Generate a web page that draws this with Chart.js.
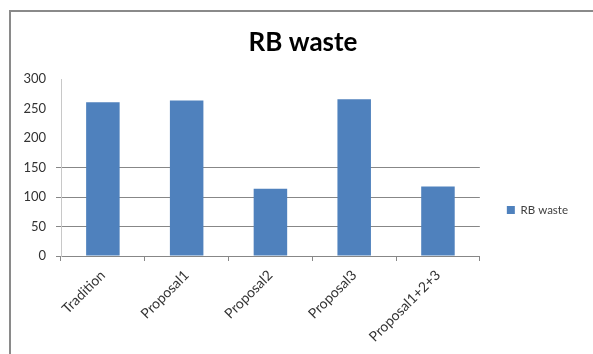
<!DOCTYPE html>
<html>
<head>
<meta charset="utf-8">
<script src="https://cdn.jsdelivr.net/npm/chart.js@4.4.1/dist/chart.umd.min.js"></script>
<style>
  html, body { margin: 0; padding: 0; background: #ffffff; }
  #wrap { position: relative; width: 593px; height: 354px; }
</style>
</head>
<body>
<div id="wrap"><canvas id="c" width="593" height="354"></canvas></div>
<script>
// Categories and measured waste per scenario
const categories = ['Tradition', 'Proposal1', 'Proposal2', 'Proposal3', 'Proposal1+2+3'];
const rbWaste = [261, 264, 114, 266, 118];
const seriesName = 'RB waste';
const yTicks = { min: 0, max: 300, step: 50 };

const FONT = 'Lato, "Liberation Sans", sans-serif';
const AXIS_GREY = '#878787';

// Outer frame of the chart object (left and top edges)
const framePlugin = {
  id: 'frame',
  beforeDraw(chart) {
    const ctx = chart.ctx;
    ctx.save();
    ctx.fillStyle = '#ffffff';
    ctx.fillRect(0, 0, chart.width, chart.height);
    ctx.strokeStyle = '#8a8a8a';
    ctx.lineWidth = 2;
    ctx.beginPath();
    ctx.moveTo(10, chart.height);
    ctx.lineTo(10, 11);
    ctx.lineTo(chart.width, 11);
    ctx.stroke();
    ctx.restore();
  }
};

// Centre the heading over the whole frame rather than the padded box
const titleShiftPlugin = {
  id: 'titleShift',
  afterLayout(chart) {
    const t = chart.titleBlock;
    if (t) { t.left += 9; t.right += 9; }
  }
};

new Chart(document.getElementById('c'), {
  type: 'bar',
  data: {
    labels: categories,
    datasets: [{
      label: seriesName,
      data: rbWaste,
      backgroundColor: '#4f81bd',
      borderWidth: 0,
      categoryPercentage: 0.8,
      barPercentage: 0.5
    }]
  },
  options: {
    responsive: false,
    animation: false,
    devicePixelRatio: 1,
    layout: { padding: { left: 10, right: 15, top: 0, bottom: 0 } },
    plugins: {
      title: {
        display: true,
        text: seriesName,
        color: '#000000',
        font: { family: FONT, size: 26, weight: 'bold' },
        padding: { top: 27, bottom: 21 }
      },
      legend: {
        position: 'right',
        // blank title block lowers the single legend entry
        title: {
          display: true,
          text: ' ',
          font: { family: FONT, size: 10 },
          padding: { top: 27, bottom: 27 }
        },
        labels: {
          boxWidth: 8,
          boxHeight: 8,
          color: '#404040',
          font: { family: FONT, size: 11.5 },
          padding: 27
        }
      },
      tooltip: { enabled: false }
    },
    scales: {
      x: {
        afterFit(scale) { scale.height = 98; },
        border: { color: AXIS_GREY, width: 1 },
        grid: {
          offset: true,
          drawOnChartArea: false,
          drawTicks: true,
          tickLength: 5,
          tickColor: AXIS_GREY
        },
        ticks: {
          color: '#333333',
          font: { family: FONT, size: 14 },
          minRotation: 45,
          maxRotation: 45,
          padding: 6
        }
      },
      y: {
        min: yTicks.min,
        max: yTicks.max,
        afterFit(scale) { scale.width = 51; },
        border: { color: '#c8c8c8', width: 1 },
        grid: {
          color: (c) => (c.tick && c.tick.value > 0 && c.tick.value <= 150) ? AXIS_GREY : 'rgba(0,0,0,0)',
          tickColor: (c) => (c.tick && c.tick.value <= 150) ? AXIS_GREY : 'rgba(0,0,0,0)',
          tickLength: 5
        },
        ticks: {
          stepSize: yTicks.step,
          color: '#333333',
          font: { family: FONT, size: 13 },
          padding: 10
        }
      }
    }
  },
  plugins: [framePlugin, titleShiftPlugin]
});
</script>
</body>
</html>
